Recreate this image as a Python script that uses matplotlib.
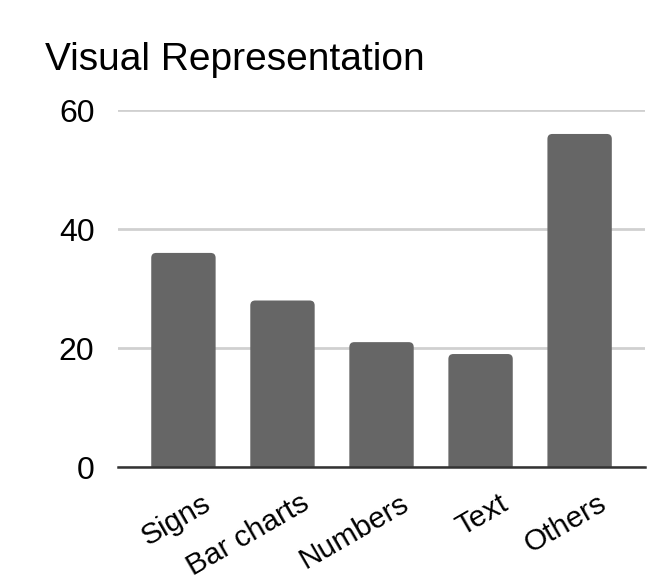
import matplotlib
matplotlib.use("Agg")
import matplotlib.pyplot as plt
from matplotlib.patches import FancyBboxPatch
import matplotlib.transforms as mtransforms

plt.rcParams['font.family'] = ['Liberation Sans', 'DejaVu Sans']

categories = ["Signs", "Bar charts", "Numbers", "Text", "Others"]
values = [36, 28, 21, 19, 56]
yticks = [0, 20, 40, 60]

bar_color = "#666666"

fig = plt.figure(figsize=(6.67, 5.86), dpi=100)
ax = fig.add_axes([0.177, 0.203, 0.79, 0.609])

bars = ax.bar(range(len(categories)), values, width=0.65, color=bar_color, zorder=2)

# swap plain bars for ones with rounded tops
ax.set_xlim(-0.66, len(categories) - 1 + 0.66)
ax.set_ylim(0, 60)
fig.canvas.draw()
bbox = ax.get_window_extent()
aspect = (60 / bbox.height) / ((ax.get_xlim()[1] - ax.get_xlim()[0]) / bbox.width)
for b in bars:
    x, w, h = b.get_x(), b.get_width(), b.get_height()
    b.set_visible(False)
    p = FancyBboxPatch((x, -2), w, h + 2,
                       boxstyle="round,pad=0,rounding_size=0.05",
                       mutation_aspect=aspect, color=bar_color, zorder=2,
                       clip_on=True, linewidth=0)
    ax.add_patch(p)

ax.set_yticks(yticks)
ax.set_yticklabels([str(t) for t in yticks], fontsize=23)
ax.grid(axis="y", color="#d0d0d0", linewidth=2, zorder=0)
ax.set_axisbelow(True)
for s in ["top", "right", "left"]:
    ax.spines[s].set_visible(False)
ax.spines["bottom"].set_color("#333333")
ax.spines["bottom"].set_linewidth(1.8)
ax.spines["bottom"].set_zorder(3)
ax.tick_params(axis="y", length=0, pad=17)
ax.tick_params(axis="x", length=0, pad=16)

ax.set_xticks(range(len(categories)))
offset = mtransforms.ScaledTranslation(18 / 100, 0, fig.dpi_scale_trans)
labels = ax.set_xticklabels(categories, fontsize=21.5, rotation=30,
                            ha="right", rotation_mode="anchor")
for lab in labels:
    lab.set_transform(lab.get_transform() + offset)

fig.text(0.067, 1 - 70 / 586, "Visual Representation", fontsize=28,
         ha="left", va="baseline")

fig.savefig("out.png", dpi=100)
